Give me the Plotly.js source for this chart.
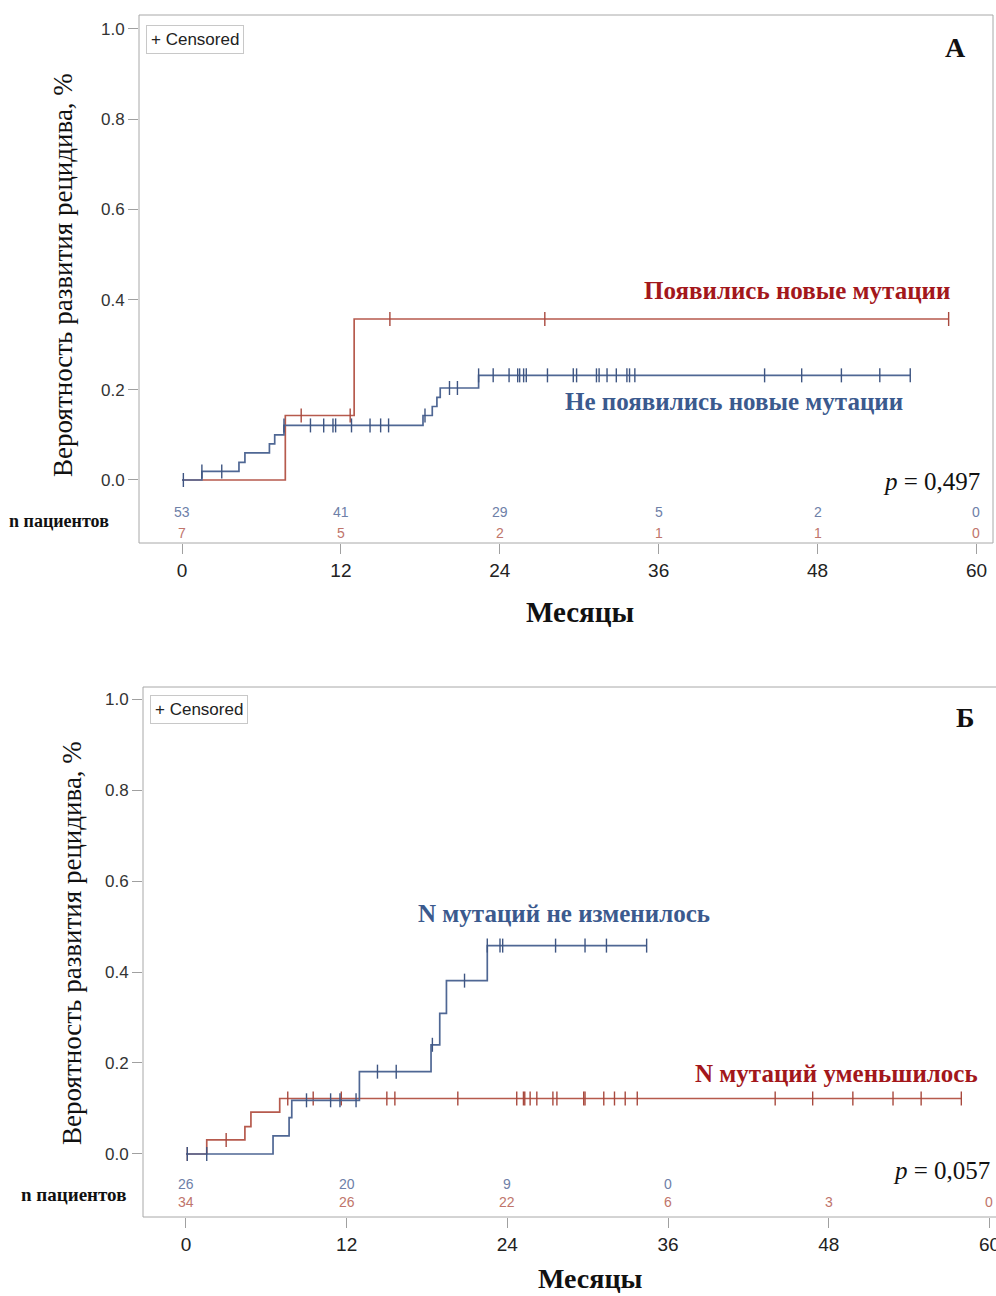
<!DOCTYPE html>
<html>
<head>
<meta charset="utf-8">
<script src="https://cdn.plot.ly/plotly-3.0.1.min.js"></script>
<style>
  html, body { margin: 0; padding: 0; background: #fff; }
  #chart { width: 996px; height: 1296px; }
</style>
</head>
<body>
<div id="chart"></div>
<script>
// Shared axis ticks
const tickMonths = [0, 12, 24, 36, 48, 60];
const yTicks = [0, 0.2, 0.4, 0.6, 0.8, 1.0];
const yTickText = ['0.0', '0.2', '0.4', '0.6', '0.8', '1.0'];

// Panel A: new mutations appeared
const aNewTimes = [7.8, 13.0];
const aNewLevels = [0.143, 0.357];
const aNewCensored = [9.0, 12.7, 15.7, 27.4, 57.9];
const aNewRisk = [7, 5, 2, 1, 1, 0];

// Panel A: no new mutations
const aNoNewTimes = [1.5, 4.3, 4.75, 6.6, 7.0, 7.7, 18.2, 18.9, 19.25, 19.5, 22.4];
const aNoNewLevels = [0.019, 0.039, 0.060, 0.080, 0.100, 0.121, 0.143, 0.163, 0.183, 0.204, 0.232];
const aNoNewCensored = [0.1, 1.5, 3.0, 7.7, 9.7, 10.7, 11.4, 11.6, 12.8, 14.2, 15.0, 15.6, 18.35,
  20.2, 20.8, 22.4, 23.5, 24.7, 25.35, 25.5, 25.8, 26.0, 27.6, 29.55, 29.8, 31.3, 31.5, 32.1,
  32.8, 33.6, 33.8, 34.2, 44.0, 46.8, 49.8, 52.7, 55.0];
const aNoNewRisk = [53, 41, 29, 5, 2, 0];

// Panel B: number of mutations unchanged
const bSameTimes = [6.5, 7.7, 7.9, 12.95, 18.3, 18.95, 19.45, 22.5];
const bSameLevels = [0.040, 0.080, 0.118, 0.181, 0.240, 0.309, 0.381, 0.458];
const bSameCensored = [0.1, 1.55, 9.0, 10.8, 11.5, 12.7, 14.3, 15.7, 18.4, 20.8, 22.5, 23.45,
  23.65, 27.6, 29.8, 31.4, 34.4];
const bSameRisk = [26, 20, 9, 0];

// Panel B: number of mutations decreased
const bFewerTimes = [1.55, 4.4, 4.85, 7.0];
const bFewerLevels = [0.031, 0.060, 0.092, 0.122];
const bFewerCensored = [0.1, 3.0, 7.6, 9.5, 11.6, 15.0, 15.6, 20.3, 24.7, 25.2, 25.3, 25.7, 26.2,
  27.4, 27.7, 29.7, 29.8, 31.2, 32.0, 32.8, 33.7, 44.0, 46.8, 49.8, 52.8, 54.9, 57.9];
const bFewerRisk = [34, 26, 22, 6, 3, 0];

const BLUE = '#4f6794';
const RED = '#b65a4d';
const BLUE_MARK = '#3e5582';
const RED_MARK = '#a8493e';
const BLUE_TXT = '#3b5a8e';
const RED_TXT = '#a3171b';
const RISK_BLUE = '#6e80a8';
const RISK_RED = '#c0756b';
const SERIF = 'Liberation Serif, Times New Roman, serif';
const SANS = 'Liberation Sans, Arial, sans-serif';

const W = 996, H = 1296;
const px = v => v / W;
const py = v => 1 - v / H;

function levelAt(times, levels, t) {
  let v = 0;
  for (let i = 0; i < times.length; i++) if (times[i] <= t + 1e-9) v = levels[i];
  return v;
}

function curve(times, levels, censored, color, xa, ya) {
  const end = Math.max(...censored);
  return {
    x: [0, ...times, end],
    y: [0, ...levels, levels[levels.length - 1]],
    mode: 'lines', line: { shape: 'hv', color: color, width: 1.7 },
    xaxis: xa, yaxis: ya, hoverinfo: 'skip', showlegend: false
  };
}

function marks(times, levels, censored, color, xa, ya) {
  return {
    x: censored,
    y: censored.map(t => levelAt(times, levels, t)),
    mode: 'markers',
    marker: { symbol: 'line-ns-open', size: 10, color: color, line: { color: color, width: 1.4 } },
    xaxis: xa, yaxis: ya, hoverinfo: 'skip', showlegend: false
  };
}

const data = [
  curve(aNewTimes, aNewLevels, aNewCensored, RED, 'x', 'y'),
  marks(aNewTimes, aNewLevels, aNewCensored, RED_MARK, 'x', 'y'),
  curve(aNoNewTimes, aNoNewLevels, aNoNewCensored, BLUE, 'x', 'y'),
  marks(aNoNewTimes, aNoNewLevels, aNoNewCensored, BLUE_MARK, 'x', 'y'),
  curve(bFewerTimes, bFewerLevels, bFewerCensored, RED, 'x2', 'y2'),
  marks(bFewerTimes, bFewerLevels, bFewerCensored, RED_MARK, 'x2', 'y2'),
  curve(bSameTimes, bSameLevels, bSameCensored, BLUE, 'x2', 'y2'),
  marks(bSameTimes, bSameLevels, bSameCensored, BLUE_MARK, 'x2', 'y2')
];

function xAxis(domain, range, anchor) {
  return {
    domain: domain, range: range, anchor: anchor,
    tickvals: tickMonths, ticktext: tickMonths.map(String),
    ticks: 'outside', ticklen: 10, tickcolor: '#a0a0a0', tickwidth: 1,
    tickfont: { family: SANS, size: 19, color: '#222' },
    ticklabeloverflow: 'allow',
    showgrid: false, zeroline: false, showline: false, fixedrange: true
  };
}
function yAxis(domain, range, anchor) {
  return {
    domain: domain, range: range, anchor: anchor,
    tickvals: yTicks, ticktext: yTickText,
    ticks: 'outside', ticklen: 10, tickcolor: '#a0a0a0', tickwidth: 1,
    tickfont: { family: SANS, size: 17, color: '#333' },
    showgrid: false, zeroline: false, showline: false, fixedrange: true
  };
}

const annotations = [];
function txt(x, y, text, opts) {
  annotations.push(Object.assign({
    xref: 'paper', yref: 'paper', x: px(x), y: py(y), text: text, showarrow: false,
    xanchor: 'center', yanchor: 'middle'
  }, opts));
}

// Axis titles
txt(63, 275, 'Вероятность развития рецидива, %', { textangle: -90, font: { family: SERIF, size: 27, color: '#111' } });
txt(72, 943, 'Вероятность развития рецидива, %', { textangle: -90, font: { family: SERIF, size: 27, color: '#111' } });
txt(580, 612, '<b>Месяцы</b>', { font: { family: SERIF, size: 29, color: '#111' } });
txt(590, 1278, '<b>Месяцы</b>', { font: { family: SERIF, size: 28, color: '#111' } });

// Risk table captions
txt(59, 521, '<b>n пациентов</b>', { font: { family: SERIF, size: 18, color: '#111' } });
txt(73, 1194, '<b>n пациентов</b>', { font: { family: SERIF, size: 19, color: '#111' } });

// Numbers at risk
function riskRow(values, yVal, color, xa, ya) {
  values.forEach((v, i) => annotations.push({
    xref: xa, yref: ya, x: tickMonths[i], y: yVal, text: String(v), showarrow: false,
    xanchor: 'center', yanchor: 'middle', font: { family: SANS, size: 14, color: color }
  }));
}
riskRow(aNoNewRisk, -0.070, RISK_BLUE, 'x', 'y');
riskRow(aNewRisk, -0.1175, RISK_RED, 'x', 'y');
riskRow(bSameRisk, -0.066, RISK_BLUE, 'x2', 'y2');
riskRow(bFewerRisk, -0.1055, RISK_RED, 'x2', 'y2');

// Censoring legend boxes
[[146, 25], [150, 695]].forEach(([x, y]) => annotations.push({
  xref: 'paper', yref: 'paper', x: px(x), y: py(y), xanchor: 'left', yanchor: 'top',
  text: '+ Censored', showarrow: false, align: 'left',
  font: { family: SANS, size: 17, color: '#222' },
  bordercolor: '#c8c8c8', borderwidth: 1, borderpad: 4
}));

// Panel letters
txt(955, 48, '<b>А</b>', { font: { family: SERIF, size: 28, color: '#111' } });
txt(965, 717, '<b>Б</b>', { font: { family: SERIF, size: 28, color: '#111' } });

// Group labels
txt(952, 291, '<b>Появились новые мутации</b>', { xanchor: 'right', font: { family: SERIF, size: 25, color: RED_TXT } });
txt(734, 402, '<b>Не появились новые мутации</b>', { font: { family: SERIF, size: 25, color: BLUE_TXT } });
txt(564, 913, '<b>N мутаций не изменилось</b>', { font: { family: SERIF, size: 25, color: BLUE_TXT } });
txt(980, 1073, '<b>N мутаций уменьшилось</b>', { xanchor: 'right', font: { family: SERIF, size: 25, color: RED_TXT } });

// Log-rank p-values
txt(982, 481, '<i>p</i> = 0,497', { xanchor: 'right', font: { family: SERIF, size: 25, color: '#111' } });
txt(992, 1170, '<i>p</i> = 0,057', { xanchor: 'right', font: { family: SERIF, size: 25, color: '#111' } });

// Plot frames
const shapes = [
  { type: 'rect', xref: 'paper', yref: 'paper', x0: px(139), x1: px(993), y0: py(543), y1: py(15),
    line: { color: '#a8a8a8', width: 1 } },
  { type: 'rect', xref: 'paper', yref: 'paper', x0: px(143), x1: px(1003), y0: py(1217), y1: py(687),
    line: { color: '#a8a8a8', width: 1 } }
];

const layout = {
  width: W, height: H, autosize: false,
  margin: { l: 0, r: 0, t: 0, b: 0, pad: 0 },
  paper_bgcolor: '#fff', plot_bgcolor: '#fff',
  showlegend: false,
  xaxis: xAxis([px(139), px(993)], [-3.25, 61.25], 'y'),
  yaxis: yAxis([py(543), py(15)], [-0.1397, 1.031], 'x'),
  xaxis2: xAxis([px(143), 1], [-3.21, 60.49], 'y2'),
  yaxis2: yAxis([py(1217), py(687)], [-0.1385, 1.0264], 'x2'),
  annotations: annotations,
  shapes: shapes
};

Plotly.newPlot('chart', data, layout, { displayModeBar: false, staticPlot: true });
</script>
</body>
</html>
